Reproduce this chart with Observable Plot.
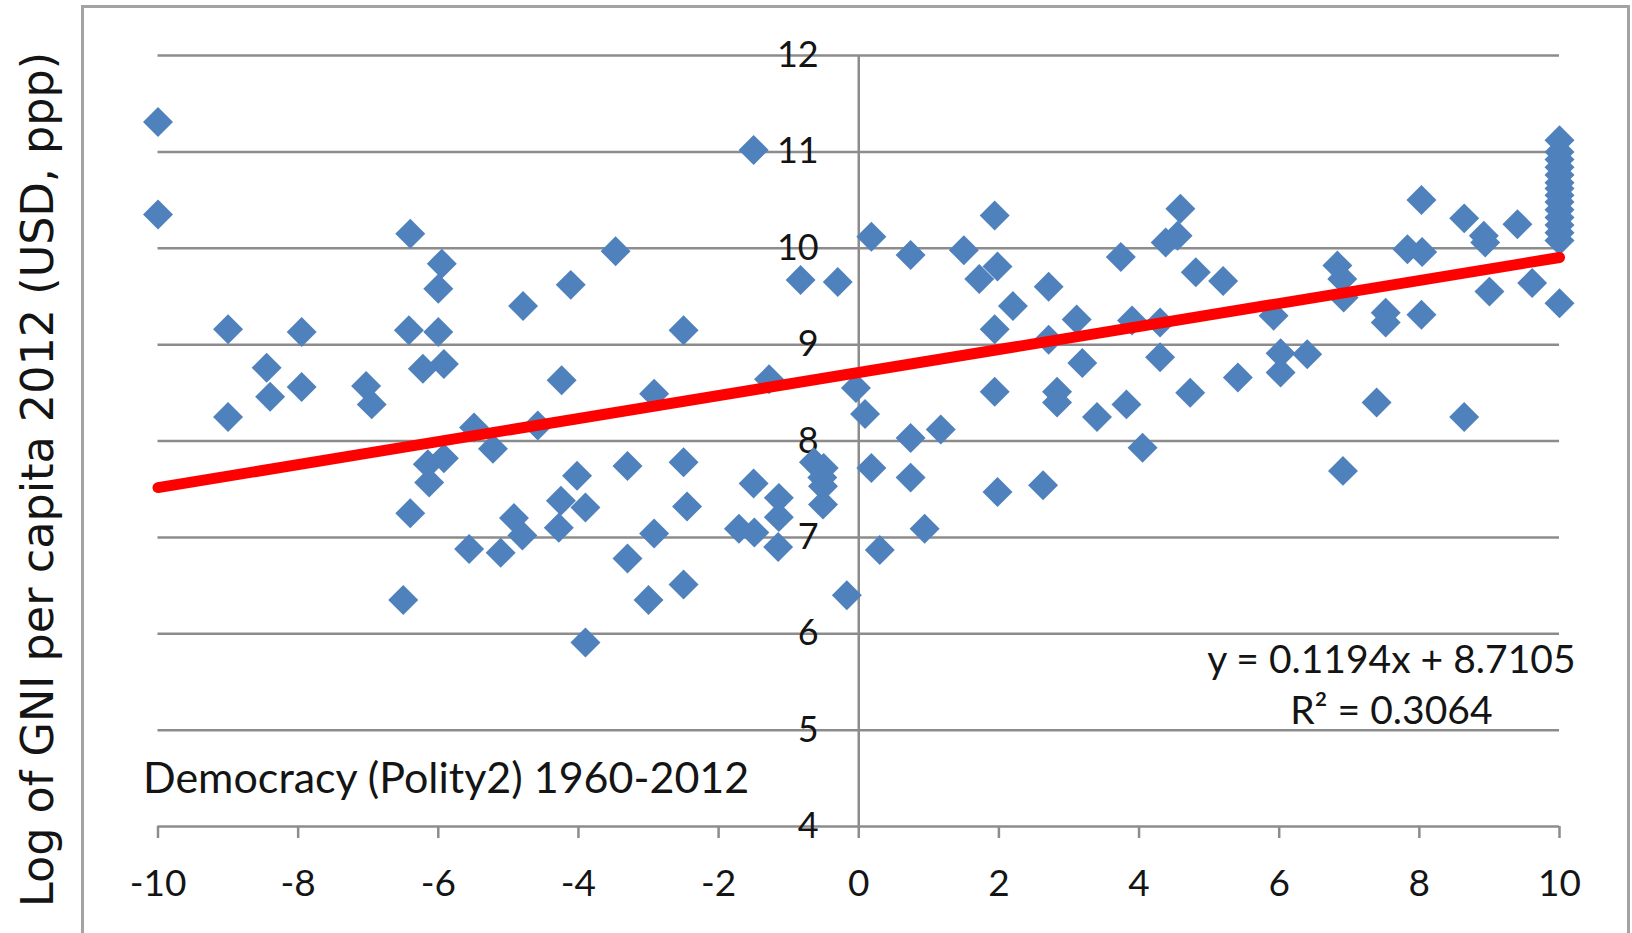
<!DOCTYPE html>
<html>
<head>
<meta charset="utf-8">
<script src="https://cdn.jsdelivr.net/npm/d3@7"></script>
<script src="https://cdn.jsdelivr.net/npm/@observablehq/plot@0.6"></script>
<style>
  body { margin: 0; background: #fff; }
  #wrap { position: relative; width: 1632px; height: 933px; overflow: hidden; background: #fff; }
  #chart { position: absolute; left: 0; top: 0; }
  #border { position: absolute; left: 81px; top: 5px; width: 1549px; height: 960px;
            border: 3px solid #a3a3a3; box-sizing: border-box; pointer-events: none; }
</style>
</head>
<body>
<div id="wrap"><div id="chart"></div><div id="border"></div></div>
<script>
// Democracy (Polity2) score, x values
const polity = [
  -10, -10, -9, -9, -8.45, -8.4, -7.95, -7.95, -7.03, -6.95,
  -6.42, -6.4, -6.4, -6.5,
  -5.95, -6.0, -6.0, -5.92, -6.22, -5.49, -5.22, -6.15, -5.92, -6.13, -5.56, -5.11,
  -4.79, -4.58, -4.92, -4.8, -4.24, -4.11, -4.25, -4.28, -4.02, -3.9, -3.9,
  -3.47, -3.3, -3.3, -2.92, -2.92, -3.0, -2.5, -2.5, -2.45, -2.5,
  -1.5, -1.28, -1.5, -1.71, -1.49, -1.14, -1.14, -1.15, -0.83, -0.3, -0.64, -0.5, -0.52, -0.51, -0.51, -0.17, -0.04,
  0.09, 0.18, 0.18, 0.3, 0.74, 0.74, 0.74, 0.94, 1.17,
  1.5, 1.72, 1.94, 1.98, 1.94, 1.94, 1.98, 2.2, 2.63, 2.71, 2.71, 2.83, 2.83,
  3.11, 3.19, 3.4, 3.74, 3.82, 3.9, 4.05, 4.3, 4.3, 4.38, 4.55, 4.59, 4.73, 4.81,
  5.2, 5.41, 5.92, 6.02, 6.02, 6.4, 6.83, 6.9, 6.92, 6.91,
  7.39, 7.52, 7.52, 7.83, 8.03, 8.04, 8.03, 8.64, 8.64, 8.92, 8.94, 9.0, 9.4, 9.61,
  10, 10, 10, 10, 10, 10, 10, 10, 10, 10, 10, 10, 10, 10, 10
];
// Log of GNI per capita 2012, y values
const logGni = [
  11.31, 10.35, 9.16, 8.25, 8.76, 8.46, 9.13, 8.56, 8.57, 8.38,
  9.15, 10.15, 7.25, 6.35,
  9.84, 9.58, 9.13, 8.80, 8.75, 8.14, 7.92, 7.76, 7.82, 7.57, 6.88, 6.84,
  9.40, 8.16, 7.20, 7.02, 8.63, 9.62, 7.38, 7.10, 7.64, 7.31, 5.91,
  9.97, 7.74, 6.78, 8.49, 7.04, 6.35, 9.15, 7.78, 7.32, 6.51,
  11.02, 8.64, 7.56, 7.09, 7.05, 7.41, 7.21, 6.90, 9.67, 9.65, 7.78, 7.72, 7.62, 7.53, 7.34, 6.40, 8.55,
  8.28, 10.12, 7.72, 6.87, 9.93, 8.03, 7.62, 7.09, 8.12,
  9.98, 9.68, 10.34, 9.81, 9.16, 8.51, 7.47, 9.40, 7.54, 9.60, 9.05, 8.51, 8.40,
  9.26, 8.81, 8.25, 9.91, 8.38, 9.25, 7.93, 9.23, 8.87, 10.06, 10.13, 10.41, 8.50, 9.75,
  9.66, 8.66, 9.30, 8.91, 8.71, 8.90, 9.82, 9.68, 9.49, 7.69,
  8.40, 9.33, 9.23, 9.99, 10.50, 9.96, 9.31, 10.31, 8.25, 10.13, 10.06, 9.55, 10.25, 9.64,
  9.43, 11.12, 11.0, 10.92, 10.84, 10.76, 10.68, 10.62, 10.55, 10.48, 10.4, 10.32, 10.24, 10.16, 10.08
];

const xTicks = [-10, -8, -6, -4, -2, 0, 2, 4, 6, 8, 10];
const yTicks = [4, 5, 6, 7, 8, 9, 10, 11, 12];

// Linear trendline as reported on the chart
const trendSlope = 0.1194;
const trendIntercept = 8.7105;
const trendXs = [-10, 10];
const eqLabel = ["y = 0.1194x + 8.7105\nR² = 0.3064"];
const eqAt = [7.6, 5.5];
const xTitle = ["Democracy (Polity2) 1960-2012"];
const xTitleAt = [-10, 4.49];
const yTitle = ["Log of GNI per capita 2012 (USD, ppp)"];

const points = polity.map((x, i) => ({x, y: logGni[i]}));
const trend = trendXs.map(x => ({x, y: trendSlope * x + trendIntercept}));

const grid = "#8c8c8c";
const ink = "#141414";

const chart = Plot.plot({
  width: 1632,
  height: 933,
  marginLeft: 157.5,
  marginRight: 73,
  marginTop: 55,
  marginBottom: 107,
  x: {domain: [-10, 10]},
  y: {domain: [4, 12]},
  style: {fontFamily: "Lato", background: "transparent", overflow: "visible"},
  marks: [
    Plot.ruleY(yTicks, {stroke: grid, strokeWidth: 2.5}),
    Plot.ruleX([0], {stroke: grid, strokeWidth: 2.5}),
    Plot.axisX({ticks: xTicks, tickSize: 12, tickPadding: 31, stroke: grid, strokeWidth: 2.5,
                fill: ink, fontSize: 37, label: null, tickFormat: d => String(d)}),
    Plot.axisY({ticks: [], label: null}),
    Plot.text(yTicks, {x: 0, y: d => d, dx: -40, textAnchor: "end", fontSize: 36, fill: ink,
                       text: d => String(d)}),
    Plot.dot(points, {x: "x", y: "y", symbol: "diamond2", r: 13.5, fill: "#4F81BD", stroke: "none"}),
    Plot.line(trend, {x: "x", y: "y", stroke: "#ff0000", strokeWidth: 11}),
    Plot.text(eqLabel, {x: () => eqAt[0], y: () => eqAt[1], text: d => d, textAnchor: "middle",
                        lineHeight: 1.33, fontSize: 39, fill: ink}),
    Plot.text(xTitle, {x: () => xTitleAt[0], y: () => xTitleAt[1], text: d => d, textAnchor: "start",
                       dx: -15, fontSize: 43, fill: ink}),
    Plot.text(yTitle, {frameAnchor: "left", text: d => d, rotate: -90, textAnchor: "middle",
                       dx: -119.5, dy: 38.5, fontFamily: "DejaVu Sans", fontSize: 44.5, fill: ink})
  ]
});
document.getElementById("chart").appendChild(chart);
</script>
</body>
</html>
